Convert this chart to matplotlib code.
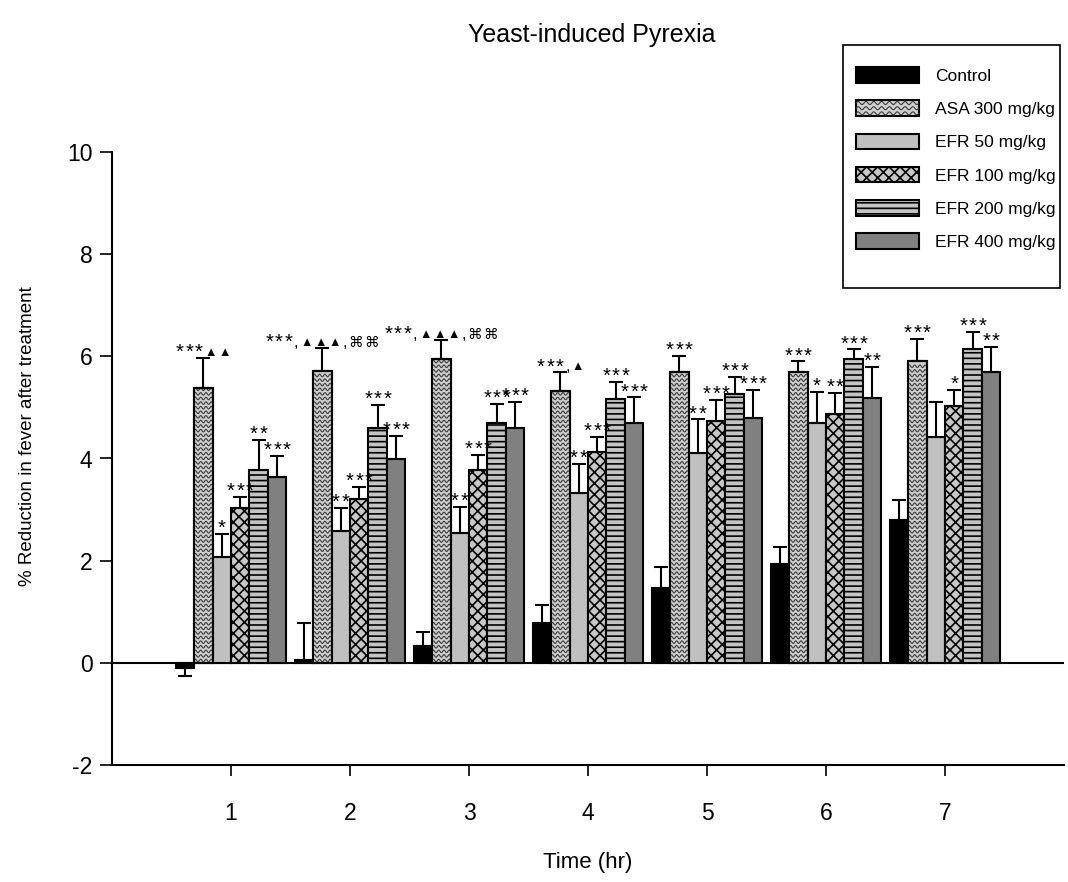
import matplotlib
matplotlib.use("Agg")
import matplotlib.pyplot as plt
import numpy as np
from matplotlib.patches import Patch, Rectangle
from matplotlib.lines import Line2D
from matplotlib.legend_handler import HandlerBase
from matplotlib.offsetbox import AnnotationBbox, HPacker, TextArea

plt.rcParams["font.family"] = ["Liberation Sans", "DejaVu Sans"]
plt.rcParams["hatch.linewidth"] = 1.2

# ---- data ----
hours = [1, 2, 3, 4, 5, 6, 7]
groups = ["Control", "ASA 300 mg/kg", "EFR 50 mg/kg", "EFR 100 mg/kg",
          "EFR 200 mg/kg", "EFR 400 mg/kg"]

control = [-0.10, 0.06, 0.32, 0.78, 1.47, 1.93, 2.80]
asa300 = [5.38, 5.71, 5.95, 5.32, 5.69, 5.69, 5.91]
efr50 = [2.07, 2.58, 2.55, 3.33, 4.10, 4.70, 4.42]
efr100 = [3.03, 3.21, 3.78, 4.13, 4.74, 4.87, 5.03]
efr200 = [3.78, 4.60, 4.70, 5.17, 5.26, 5.95, 6.14]
efr400 = [3.64, 3.99, 4.60, 4.70, 4.79, 5.19, 5.69]

control_err = [0.15, 0.72, 0.28, 0.35, 0.41, 0.34, 0.39]
asa300_err = [0.59, 0.45, 0.37, 0.37, 0.32, 0.21, 0.43]
efr50_err = [0.45, 0.45, 0.50, 0.56, 0.67, 0.60, 0.69]
efr100_err = [0.22, 0.24, 0.29, 0.29, 0.41, 0.41, 0.31]
efr200_err = [0.58, 0.45, 0.37, 0.33, 0.34, 0.19, 0.34]
efr400_err = [0.41, 0.45, 0.51, 0.50, 0.55, 0.61, 0.49]

# significance marks per group / hour
control_sig = ["", "", "", "", "", "", ""]
asa300_sig = ["***▲▲", "***,▲▲▲,⌘⌘", "***,▲▲▲,⌘⌘", "***,▲", "***", "***", "***"]
efr50_sig = ["*", "**", "**", "**", "**", "*", ""]
efr100_sig = ["***", "***", "***", "***", "***", "**", "*"]
efr200_sig = ["**", "***", "***", "***", "***", "***", "***"]
efr400_sig = ["***", "***", "***", "***", "***", "**", "**"]

values = [control, asa300, efr50, efr100, efr200, efr400]
errors = [control_err, asa300_err, efr50_err, efr100_err, efr200_err, efr400_err]
sigs = [control_sig, asa300_sig, efr50_sig, efr100_sig, efr200_sig, efr400_sig]

styles = [
    dict(facecolor="black", hatch=None),
    dict(facecolor="#cfcfcf", hatch=None),   # wavy pattern drawn separately
    dict(facecolor="#c0c0c0", hatch=None),
    dict(facecolor="#c8c8c8", hatch="xxx"),
    dict(facecolor="#c4c4c4", hatch="---"),
    dict(facecolor="#808080", hatch=None),
]

SYM_SIZE = {"*": 14.5, "▲": 9, "⌘": 10.5, ",": 12}


def wave_lines(x0, y0, w, h, spacing, period, amp, transform):
    """Sine rows filling the box (x0, y0, w, h)."""
    xs = np.linspace(x0, x0 + w, 80)
    lines = []
    for yy in np.arange(y0 + spacing / 2, y0 + h - spacing / 4, spacing):
        lines.append(Line2D(xs, yy + amp * np.sin(2 * np.pi * (xs - x0) / period),
                            color="#3a3a3a", lw=0.8, transform=transform))
    return lines


class WaveHandler(HandlerBase):
    def create_artists(self, legend, orig_handle, xdescent, ydescent,
                       width, height, fontsize, trans):
        rect = Rectangle((-xdescent, -ydescent), width, height,
                         facecolor="#cfcfcf", edgecolor="black", lw=1.5,
                         transform=trans)
        waves = wave_lines(-xdescent, -ydescent, width, height, height / 3,
                           width / 8, height * 0.1, trans)
        return [rect] + waves


def sig_box(s):
    # one small box per symbol so each kind gets its own size
    kids = [TextArea(ch, textprops=dict(fontsize=SYM_SIZE.get(ch, 12)))
            for ch in s]
    return HPacker(children=kids, pad=0, sep=1.2, align="center")


fig = plt.figure(figsize=(10.68, 8.82), dpi=100)
ax = fig.add_axes([112 / 1068, 117 / 882, 952 / 1068, 613 / 882])

x = np.array(hours, dtype=float)
bw = 0.155
for i, (vals, errs, sg, st) in enumerate(zip(values, errors, sigs, styles)):
    pos = x + (i - 2.5) * bw
    vals = np.array(vals)
    errs = np.array(errs)
    bars = ax.bar(pos, vals, width=bw, color=st["facecolor"], edgecolor="black",
                  linewidth=1.5, hatch=st["hatch"], zorder=2)
    lower = np.where(vals < 0, errs, 0)
    upper = np.where(vals >= 0, errs, 0)
    ax.errorbar(pos, vals, yerr=[lower, upper], fmt="none", ecolor="black",
                elinewidth=1.5, capsize=5, capthick=1.5, zorder=3)
    if i == 1:
        for b in bars:
            for ln in wave_lines(b.get_x(), 0, b.get_width(), b.get_height(),
                                 0.09, b.get_width() / 3.5, 0.025, ax.transData):
                ln.set_zorder(2.1)
                ax.add_line(ln)
                ln.set_clip_path(b)
        # redraw outlines on top of the waves
        ax.bar(pos, vals, width=bw, color="none", edgecolor="black",
               linewidth=1.5, zorder=2.2)
    for p, v, e, s in zip(pos, vals, errs, sg):
        if s:
            ab = AnnotationBbox(sig_box(s), (p, v + e), xybox=(0, -3),
                                boxcoords="offset points", box_alignment=(0.5, 0),
                                frameon=False, pad=0, zorder=4)
            ax.add_artist(ab)

ax.axhline(0, color="black", lw=1.5, zorder=1)
ax.set_xlim(0, 8)
ax.set_ylim(-2, 10)
ax.set_xticks(hours)
ax.set_xticklabels([str(h) for h in hours])
ax.set_yticks([-2, 0, 2, 4, 6, 8, 10])
ax.set_yticklabels(["-2", "0", "2", "4", "6", "8", "10"])
ax.spines["top"].set_visible(False)
ax.spines["right"].set_visible(False)
ax.spines["left"].set_linewidth(1.5)
ax.spines["bottom"].set_linewidth(1.5)
ax.tick_params(axis="x", direction="out", length=8, width=1.2, pad=19, labelsize=16.5)
ax.tick_params(axis="y", direction="out", length=9, width=1.2, pad=5, labelsize=16.5)
ax.set_xlabel("Time (hr)", fontsize=16, labelpad=19)
ax.set_ylabel("% Reduction in fever after treatment", fontsize=13.5, labelpad=22)
ax.yaxis.label.set_y(0.537)
fig.text(0.554, 0.960, "Yeast-induced Pyrexia", ha="center", va="center", fontsize=18)

handles = []
for i, (g, st) in enumerate(zip(groups, styles)):
    handles.append(Patch(facecolor=st["facecolor"], edgecolor="black", lw=1.5,
                         hatch=st["hatch"], label=g))
leg = fig.legend(handles=handles, loc="upper left",
                 bbox_to_anchor=(851 / 1068, 1 - 62 / 882),
                 handler_map={handles[1]: WaveHandler()},
                 fontsize=12.5, frameon=False,
                 handlelength=3.6, handleheight=1.0, labelspacing=0.95,
                 borderpad=0.3, handletextpad=0.95, borderaxespad=0)
fig.add_artist(Rectangle((843 / 1068, 1 - 288 / 882), 217 / 1068, 243 / 882,
                         transform=fig.transFigure, facecolor="none",
                         edgecolor="black", lw=1.2))

fig.savefig("out.png", dpi=100)
